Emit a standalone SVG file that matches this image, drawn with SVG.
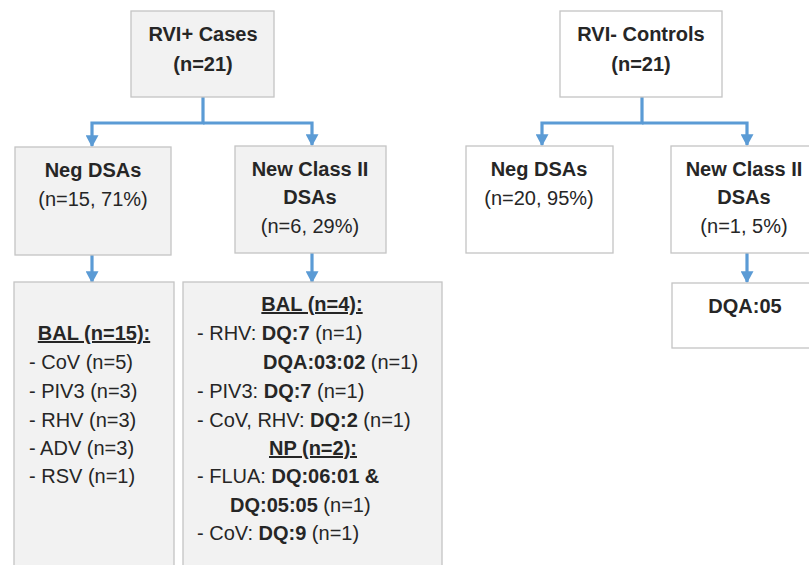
<svg xmlns="http://www.w3.org/2000/svg" width="809" height="565" viewBox="0 0 809 565">
<style>
.g{fill:#f2f2f2;stroke:#c4c4c4;stroke-width:1.3}
.w{fill:#ffffff;stroke:#c4c4c4;stroke-width:1.3}
text{font-family:"Liberation Sans",Arial,sans-serif;font-size:20px;fill:#262626}
.c{text-anchor:middle}
.b{font-weight:bold}
.u{font-weight:bold;text-decoration:underline}
.con{fill:none;stroke:#5b9bd5;stroke-width:3.2;stroke-linejoin:miter}
</style>
<defs>
<marker id="ah" viewBox="0 0 10 10" refX="9" refY="5" markerUnits="userSpaceOnUse" markerWidth="12" markerHeight="13" orient="auto" preserveAspectRatio="none">
<path d="M0,0 L10,5 L0,10 z" fill="#5b9bd5"/>
</marker>
</defs>
<g id="connectors">
<path class="con" d="M203,97 V123 H92 V146" marker-end="url(#ah)"/>
<path class="con" d="M203,123 H312 V145" marker-end="url(#ah)"/>
<path class="con" d="M92,255 V282" marker-end="url(#ah)"/>
<path class="con" d="M312,253 V282" marker-end="url(#ah)"/>
<path class="con" d="M642,97 V123 H542 V145" marker-end="url(#ah)"/>
<path class="con" d="M642,123 H747 V145" marker-end="url(#ah)"/>
<path class="con" d="M747,253 V282" marker-end="url(#ah)"/>
</g>
<g id="cases">
<rect class="g" x="131" y="11" width="143" height="86"/>
<text class="c b" x="203" y="41">RVI+ Cases</text>
<text class="c b" x="203" y="71">(n=21)</text>
</g>
<g id="cases-neg">
<rect class="g" x="15" y="147" width="156" height="108"/>
<text class="c b" x="93" y="177">Neg DSAs</text>
<text class="c" x="93" y="206">(n=15, 71%)</text>
</g>
<g id="cases-new">
<rect class="g" x="235" y="146" width="151" height="107"/>
<text class="c b" x="310" y="176">New Class II</text>
<text class="c b" x="310" y="204">DSAs</text>
<text class="c" x="310" y="233">(n=6, 29%)</text>
</g>
<g id="cases-neg-bal">
<rect class="g" x="14" y="282" width="160" height="300"/>
<text class="c u" x="94" y="340">BAL (n=15):</text>
<text x="29" y="369">- CoV (n=5)</text>
<text x="29" y="398">- PIV3 (n=3)</text>
<text x="29" y="427">- RHV (n=3)</text>
<text x="29" y="455">- ADV (n=3)</text>
<text x="29" y="483">- RSV (n=1)</text>
</g>
<g id="cases-new-detail">
<rect class="g" x="183" y="282" width="259" height="300"/>
<text class="c u" x="312" y="311">BAL (n=4):</text>
<text x="197" y="340">- RHV: <tspan class="b">DQ:7</tspan> (n=1)</text>
<text x="263" y="369"><tspan class="b">DQA:03:02</tspan> (n=1)</text>
<text x="197" y="398">- PIV3: <tspan class="b">DQ:7</tspan> (n=1)</text>
<text x="197" y="427">- CoV, RHV: <tspan class="b">DQ:2</tspan> (n=1)</text>
<text class="c u" x="313" y="455">NP (n=2):</text>
<text x="197" y="483">- FLUA: <tspan class="b">DQ:06:01 &amp;</tspan></text>
<text x="230" y="512"><tspan class="b">DQ:05:05</tspan> (n=1)</text>
<text x="197" y="540">- CoV: <tspan class="b">DQ:9</tspan> (n=1)</text>
</g>
<g id="controls">
<rect class="w" x="560" y="11" width="162" height="86"/>
<text class="c b" x="641" y="41">RVI- Controls</text>
<text class="c b" x="641" y="71">(n=21)</text>
</g>
<g id="controls-neg">
<rect class="w" x="466" y="146" width="147" height="107"/>
<text class="c b" x="539" y="176">Neg DSAs</text>
<text class="c" x="539" y="205">(n=20, 95%)</text>
</g>
<g id="controls-new">
<rect class="w" x="671" y="146" width="150" height="107"/>
<text class="c b" x="744" y="176">New Class II</text>
<text class="c b" x="744" y="204">DSAs</text>
<text class="c" x="744" y="233">(n=1, 5%)</text>
</g>
<g id="controls-dqa">
<rect class="w" x="672" y="283" width="150" height="65"/>
<text class="c b" x="745" y="313">DQA:05</text>
</g>
</svg>
